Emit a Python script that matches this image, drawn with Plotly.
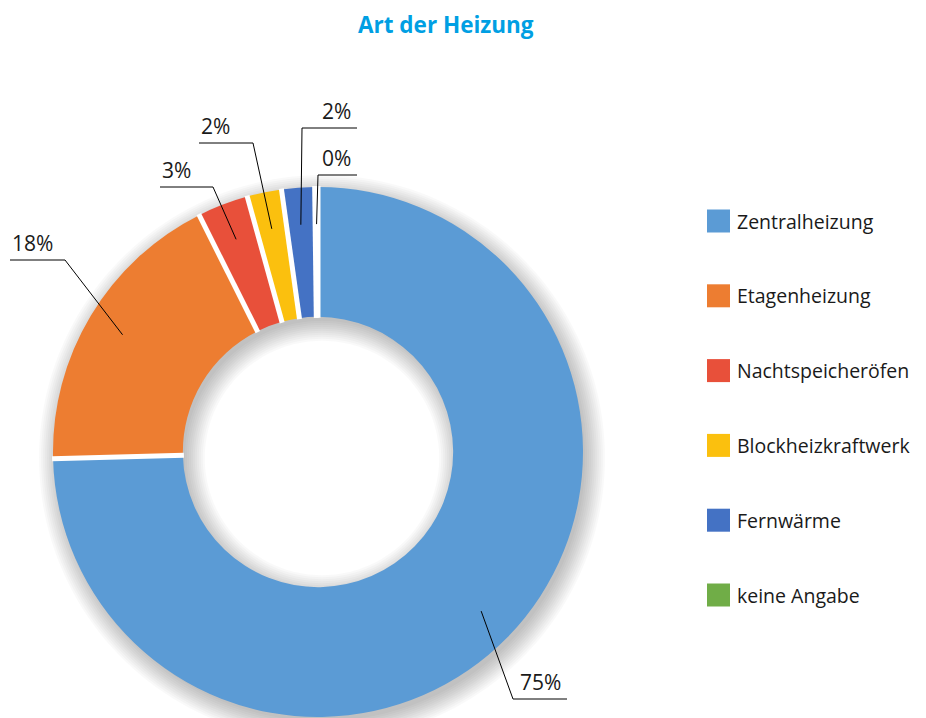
import math

import plotly.graph_objects as go

# --- data -----------------------------------------------------------------
LABELS = [
    "Zentralheizung",
    "Etagenheizung",
    "Nachtspeicheröfen",
    "Blockheizkraftwerk",
    "Fernwärme",
    "keine Angabe",
]
SHARES = [74.6, 18.0, 3.1, 2.1, 2.0, 0.2]
COLORS = ["#5B9BD5", "#ED7D31", "#E8503A", "#FBC00E", "#4472C4", "#70AD47"]

TITLE = "Art der Heizung"

# --- layout constants (pixels in the 926x718 window) -----------------------
OFF = 8  # default body margin of the html page
W, H = 926 - OFF, 718 - OFF
CX, CY, R = 318, 452, 265
HOLE = 0.51
FONT = "Open Sans, Noto Sans, Arial, sans-serif"

# label anchors per slice: (elbow x, elbow y, end x, text side)
LABEL_POS = [
    (513, 699, 567, "right"),
    (65, 260, 10, "left"),
    (213, 187, 160, "left"),
    (253, 143, 199, "left"),
    (302, 128, 357, "right"),
    (318, 175, 357, "right"),
]


def px_x(x):
    return (x - OFF) / W


def px_y(y):
    return 1 - (y - OFF) / H


def polar(r, a):
    return CX + r * math.sin(a), CY - r * math.cos(a)


def ring_path(cx, cy, r_out, r_in, n=180):
    def circle(r):
        pts = []
        for i in range(n):
            a = 2 * math.pi * i / n
            pts.append(f"{px_x(cx + r * math.sin(a)):.5f},{px_y(cy - r * math.cos(a)):.5f}")
        return "M" + " L".join(pts) + " Z"

    return circle(r_out) + " " + circle(r_in)


fig = go.Figure(
    go.Pie(
        labels=LABELS,
        values=SHARES,
        hole=HOLE,
        sort=False,
        direction="clockwise",
        rotation=0,
        textinfo="none",
        marker=dict(colors=COLORS, line=dict(width=0)),
        domain=dict(x=[px_x(CX - R), px_x(CX + R)], y=[px_y(CY + R), px_y(CY - R)]),
        showlegend=False,
        hoverinfo="label+percent",
    )
)

shapes = []
annotations = []
r_in = R * HOLE

# soft drop shadow under the ring, built from stacked translucent rings
for k in range(11):
    spread = 2.0 * k
    shapes.append(
        dict(
            type="path", xref="paper", yref="paper", layer="below",
            path=ring_path(CX + 4, CY + 6, R + spread - 2, r_in - spread + 2),
            fillrule="evenodd",
            fillcolor="rgba(0,0,0,0.022)",
            line=dict(width=0),
        )
    )

total = sum(SHARES)

# white separators between slices (only radial, so no white rim on the edge)
cum = 0.0
for value in SHARES:
    a = cum / total * 2 * math.pi
    cum += value
    x0, y0 = polar(r_in - 1, a)
    x1, y1 = polar(R + 1, a)
    shapes.append(
        dict(
            type="line", xref="paper", yref="paper", layer="above",
            x0=px_x(x0), y0=px_y(y0), x1=px_x(x1), y1=px_y(y1),
            line=dict(color="white", width=5),
        )
    )

# leader lines + percentage labels, start point from each slice's mid-angle
cum = 0.0
for value, (ex, ey, endx, side) in zip(SHARES, LABEL_POS):
    mid = (cum + value / 2) / total * 2 * math.pi
    cum += value
    sx, sy = polar(0.86 * R, mid)
    for x0, y0, x1, y1 in [(sx, sy, ex, ey), (ex, ey, endx, ey)]:
        shapes.append(
            dict(
                type="line", xref="paper", yref="paper",
                x0=px_x(x0), y0=px_y(y0), x1=px_x(x1), y1=px_y(y1),
                line=dict(color="black", width=1),
            )
        )
    annotations.append(
        dict(
            text=f"{value / total * 100:.0f}%",
            xref="paper", yref="paper",
            x=px_x(endx if side == "left" else endx - 4), y=px_y(ey - 1),
            xanchor="left" if side == "left" else "right", yanchor="bottom",
            showarrow=False,
            font=dict(size=21, color="#1a1a1a", family=FONT),
        )
    )

# legend drawn by hand so the swatches can be as big as in the original
for i, (label, color) in enumerate(zip(LABELS, COLORS)):
    yc = 221 + i * 74.8
    shapes.append(
        dict(
            type="rect", xref="paper", yref="paper",
            x0=px_x(707), x1=px_x(730), y0=px_y(yc - 11.5), y1=px_y(yc + 11.5),
            fillcolor=color, line=dict(width=0),
        )
    )
    annotations.append(
        dict(
            text=label, xref="paper", yref="paper",
            x=px_x(735), y=px_y(yc), xanchor="left", yanchor="middle",
            showarrow=False,
            font=dict(size=19.5, color="#1a1a1a", family=FONT),
        )
    )

annotations.append(
    dict(
        text=f"<b>{TITLE}</b>", xref="paper", yref="paper",
        x=px_x(446), y=1, xanchor="center", yanchor="top",
        borderpad=0,
        showarrow=False,
        font=dict(size=22.5, color="#009FE3", family=FONT),
    )
)

fig.update_layout(
    width=W,
    height=H,
    margin=dict(l=0, r=0, t=0, b=0),
    paper_bgcolor="white",
    plot_bgcolor="white",
    shapes=shapes,
    annotations=annotations,
)

fig.write_html("out.html")
